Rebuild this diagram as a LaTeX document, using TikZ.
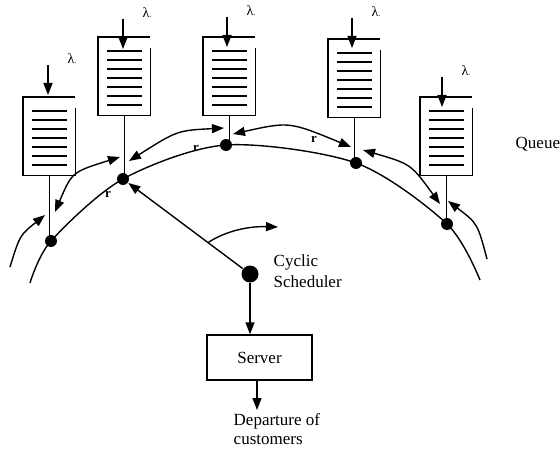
\documentclass[tikz,border=0pt]{standalone}
\usepackage{fontspec}
\setmainfont{Liberation Serif}
\usetikzlibrary{arrows.meta,calc}

\begin{document}
\begin{tikzpicture}[x=1pt,y=-1pt,line width=1.4pt,
  tip/.style={-{Triangle[length=12pt,width=9pt]}},
  twotips/.style={{Triangle[length=12pt,width=9pt]}-{Triangle[length=12pt,width=9pt]}},
  dot/.style={circle,fill,inner sep=0pt,minimum size=12pt},
  hub/.style={circle,fill,inner sep=0pt,minimum size=17pt},
  qbox/.style={rectangle,inner sep=0pt,minimum width=51pt,minimum height=77pt},
  job/.style={line width=2.3pt},
  txt/.style={inner sep=0pt,font=\fontsize{17}{21}\selectfont},
  lam/.style={inner sep=0pt,font=\fontsize{14}{14}\selectfont},
  rlab/.style={inner sep=0pt,font=\fontsize{13}{13}\selectfont\bfseries}]

\path[use as bounding box] (0,0) rectangle (560,452);

% polling points on the ring
\node[dot] (D1) at (51,241) {};
\node[dot] (D2) at (123,179) {};
\node[dot] (D3) at (226,145) {};
\node[dot] (D4) at (356,163) {};
\node[dot] (D5) at (447,224) {};
\coordinate (ringL) at (30,283);
\coordinate (ringR) at (480,280);

% the ring itself
\draw plot[smooth] coordinates {(ringL) (D1.center) (D2.center) (D3.center) (D4.center) (D5.center) (ringR)};

% queues: open-topped buffers with waiting jobs, arrivals and a stem to the ring
\foreach \n/\xl/\yt/\ax/\ay in {1/23/97/48/95, 2/98/37/123/49, 3/203/37/227/47, 4/328/39/352/48, 5/420/97/442/107}{
  \node[qbox,anchor=north west] (Q\n) at (\xl,\yt) {};
  \draw (Q\n.north east) -- (Q\n.north west) -- (Q\n.south west) -- (Q\n.south east) -- ++(0,-67);
  \foreach \k in {0,...,6}
    \draw[job] ($(Q\n.north west)+(9,14+9*\k)$) -- ($(Q\n.north east)+(-8,14+9*\k)$);
  \coordinate (in\n) at (\ax,\ay-30);
  \coordinate (tip\n) at (\ax,\ay);
  \draw[tip] (in\n) -- (tip\n);
  \node[lam,anchor=base west] (lam\n) at (\ax+19,\ay-31) {λ{\fontsize{8}{8}\selectfont .}};
  \draw (Q\n.south) -- (Q\n.south |- D\n.center);
}

\node[txt,anchor=base west] (queue) at (515,148) {Queue};

% switch-over arrows along the ring
\coordinate (a0) at (10,267);   \coordinate (b0) at (45,215);
\coordinate (a1) at (55,212);   \coordinate (b1) at (120,157);
\coordinate (a2) at (129,161);  \coordinate (b2) at (224,128);
\coordinate (a3) at (233,134);  \coordinate (b3) at (351,147);
\coordinate (a4) at (363,150);  \coordinate (b4) at (440,204);
\coordinate (a5) at (487,259);  \coordinate (b5) at (448,201);

\draw[tip] (a0) .. controls (19.8,235.3) .. (b0);
\draw[twotips] (a1) .. controls (72,172) .. (b1);
\draw[twotips] (a2) .. controls (177.2,130.5) .. (b2);
\draw[twotips] (a3) .. controls (289.3,121.5) .. (b3);
\draw[twotips] (a4) .. controls (411,164) .. (b4);
\draw[tip] (a5) .. controls (477.5,223.3) .. (b5);

\node[rlab] (r1) at (108,194) {r};
\node[rlab] (r2) at (196,148) {r};
\node[rlab] (r3) at (314,139) {r};

% cyclic scheduler and its rotating pointer
\node[hub] (S) at (250,274) {};
\draw[tip] (S) -- (D2);
\coordinate (turn) at ($(S)!0.33!(D2)$);
\coordinate (turnend) at (278,227);
\draw[tip] (turn) .. controls (222,233) and (245,226) .. (turnend);
\node[txt,anchor=north west,align=left] (sched) at (273,254.5) {Cyclic\\Scheduler};

% server and departures
\node[draw,txt,minimum width=105pt,minimum height=45pt] (srv) at (259.5,357.5) {Server};
\draw[tip] (S) -- (S |- srv.north);
\coordinate (dep) at (257,410);
\draw[tip] (dep |- srv.south) -- (dep);
\node[inner sep=0pt,font=\fontsize{17}{19}\selectfont,anchor=north west,align=left] (deptxt) at (233,413) {Departure of\\customers};

\end{tikzpicture}
\end{document}
